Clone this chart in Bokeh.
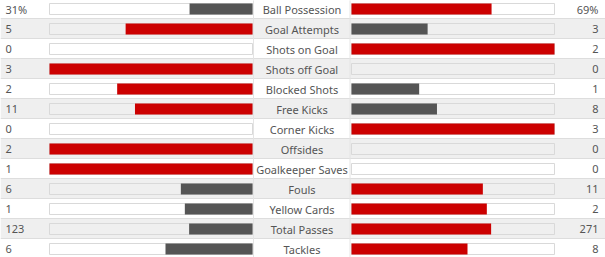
from bokeh.plotting import figure
from bokeh.models import Range1d, ColumnDataSource
from bokeh.embed import file_html
from bokeh.resources import INLINE
from bokeh.core.properties import value

categories = ["Ball Possession", "Goal Attempts", "Shots on Goal", "Shots off Goal",
              "Blocked Shots", "Free Kicks", "Corner Kicks", "Offsides",
              "Goalkeeper Saves", "Fouls", "Yellow Cards", "Total Passes", "Tackles"]
home_values = [31, 5, 0, 3, 2, 11, 0, 2, 1, 6, 1, 123, 6]
away_values = [69, 3, 2, 0, 1, 8, 3, 0, 0, 11, 2, 271, 8]
suffixes = ["%", "", "", "", "", "", "", "", "", "", "", "", ""]

RED = "#cc0000"
GRAY = "#555555"
TEXT = "#555555"
W, H = 605, 257
L0, L1 = 49, 252      # left track
R0, R1 = 351, 554     # right track
TW = L1 - L0

n = len(categories)
rows = list(range(n))

p = figure(width=W, height=H, output_backend="svg", toolbar_location=None,
           x_range=Range1d(0, W), y_range=Range1d(12.425, -0.425),
           min_border=0, min_border_left=0, min_border_right=0,
           min_border_top=0, min_border_bottom=0)
p.axis.visible = False
p.grid.visible = False
p.outline_line_color = None
p.background_fill_color = "white"
p.border_fill_color = "white"

# row backgrounds
bg = ["#ffffff" if i % 2 == 0 else "#efefef" for i in rows]
p.rect(x=[W / 2] * n, y=[i - 0.025 for i in rows], width=W, height=1,
       fill_color=bg, line_color=None)
# row separators
p.segment(x0=[0] * n, x1=[W] * n, y0=[i + 0.475 for i in rows], y1=[i + 0.475 for i in rows],
          line_color="#dddddd", line_width=1)
# faint column lines
p.segment(x0=[253, 349.5], x1=[253, 349.5], y0=[-1, -1], y1=[13, 13],
          line_color="#e4e4e4", line_width=1)

# tracks
p.quad(left=[L0] * n, right=[L1] * n, top=[i - 0.275 for i in rows], bottom=[i + 0.275 for i in rows],
       fill_color=None, line_color="#d9d9d9", line_width=1)
p.quad(left=[R0] * n, right=[R1] * n, top=[i - 0.275 for i in rows], bottom=[i + 0.275 for i in rows],
       fill_color=None, line_color="#d9d9d9", line_width=1)

# bars
hl, hr, ht, hb, hc = [], [], [], [], []
al, ar, at, ab, ac = [], [], [], [], []
for i, (h, a) in enumerate(zip(home_values, away_values)):
    tot = h + a
    if tot == 0:
        continue
    hcol = RED if h > a else GRAY
    acol = RED if a > h else GRAY
    if h > 0:
        hl.append(L1 - TW * h / tot); hr.append(L1); ht.append(i - 0.275); hb.append(i + 0.275); hc.append(hcol)
    if a > 0:
        al.append(R0); ar.append(R0 + TW * a / tot); at.append(i - 0.275); ab.append(i + 0.275); ac.append(acol)
p.quad(left=hl, right=hr, top=ht, bottom=hb, fill_color=hc, line_color=None)
p.quad(left=al, right=ar, top=at, bottom=ab, fill_color=ac, line_color=None)

font = value("Noto Sans")
p.text(x=[5] * n, y=rows, text=[f"{v}{s}" for v, s in zip(home_values, suffixes)],
       text_font=font, text_font_size="11px", text_color=TEXT,
       text_align="left", text_baseline="middle")
p.text(x=[598] * n, y=rows, text=[f"{v}{s}" for v, s in zip(away_values, suffixes)],
       text_font=font, text_font_size="11px", text_color=TEXT,
       text_align="right", text_baseline="middle")
p.text(x=[301.5] * n, y=rows, text=categories,
       text_font=font, text_font_size="11px", text_color=TEXT,
       text_align="center", text_baseline="middle")

open("out.html", "w").write(file_html(p, INLINE))
